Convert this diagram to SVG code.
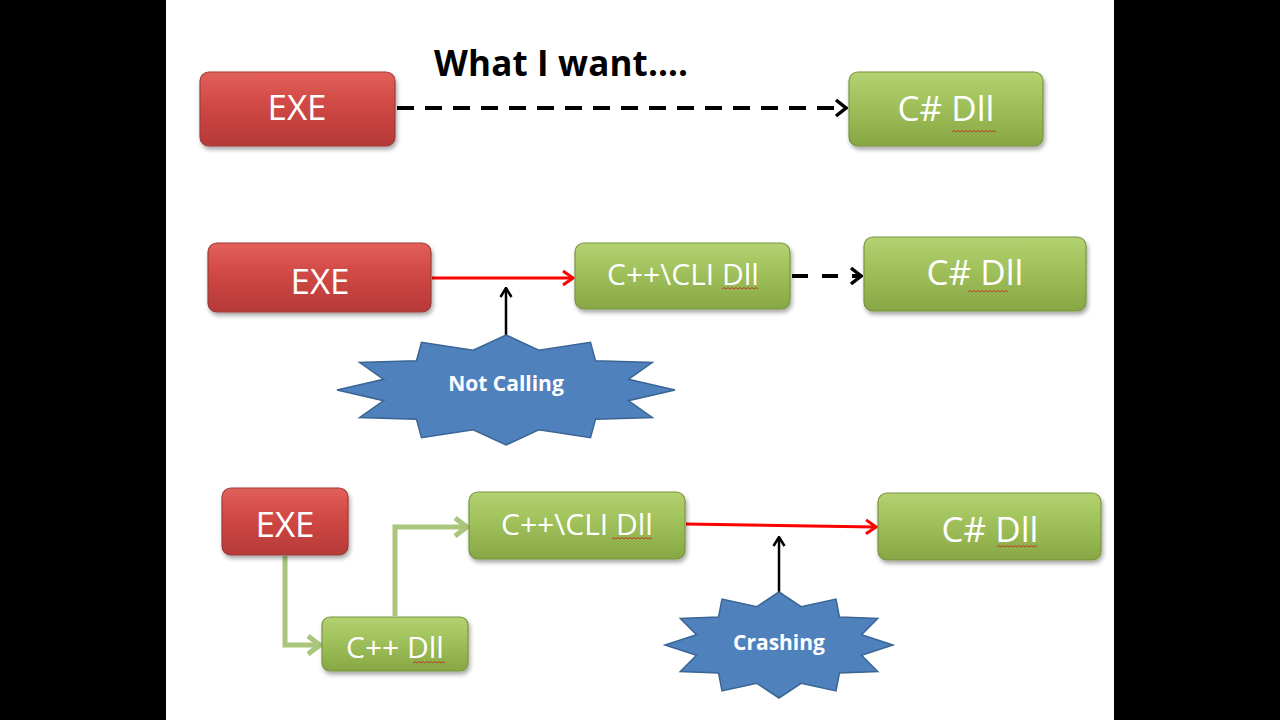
<svg xmlns="http://www.w3.org/2000/svg" xmlns:xlink="http://www.w3.org/1999/xlink" width="1280" height="720" viewBox="0 0 1280 720">
<style>
.lbl{font-family:"Open Sans","Liberation Sans",sans-serif;fill:#fff;text-anchor:middle;dominant-baseline:central}
.big{font-size:35px}
.mid{font-size:30px}
.star{font-family:"Open Sans","Liberation Sans",sans-serif;font-weight:bold;font-size:21px;fill:#fff;text-anchor:middle;dominant-baseline:central}
.red{fill:url(#gRed);stroke:#9e3a37;stroke-width:1.2;filter:url(#sh)}
.grn{fill:url(#gGrn);stroke:#7a9440;stroke-width:1.2;filter:url(#sh)}
.sq{fill:none;stroke:#c0302a;stroke-width:0.9}
.title{font-family:"Open Sans","Liberation Sans",sans-serif;font-weight:bold;font-size:35px;fill:#000}
</style>
<defs>
<linearGradient id="gRed" x1="0" y1="0" x2="0" y2="1">
<stop offset="0" stop-color="#e2605b"/>
<stop offset="0.45" stop-color="#d04844"/>
<stop offset="1" stop-color="#b53a37"/>
</linearGradient>
<linearGradient id="gGrn" x1="0" y1="0" x2="0" y2="1">
<stop offset="0" stop-color="#b4d271"/>
<stop offset="0.45" stop-color="#9fc05a"/>
<stop offset="1" stop-color="#86a743"/>
</linearGradient>
<filter id="sh" x="-10%" y="-20%" width="125%" height="150%">
<feDropShadow dx="1.5" dy="3" stdDeviation="2" flood-color="#000" flood-opacity="0.35"/>
</filter>
<polygon id="star12" vector-effect="non-scaling-stroke" points="0,-1 .194,-.724 .5,-.866 .53,-.53 .866,-.5 .724,-.194 1,0 .724,.194 .866,.5 .53,.53 .5,.866 .194,.724 0,1 -.194,.724 -.5,.866 -.53,.53 -.866,.5 -.724,.194 -1,0 -.724,-.194 -.866,-.5 -.53,-.53 -.5,-.866 -.194,-.724"/>
<marker id="aBlk" viewBox="0 0 14 20" refX="12" refY="10" markerWidth="14" markerHeight="20" markerUnits="userSpaceOnUse" orient="auto">
<path d="M2,2 L12,10 L2,18" fill="none" stroke="#000" stroke-width="3.5"/>
</marker>
<marker id="aBlkS" viewBox="0 0 12 14" refX="10.5" refY="7" markerWidth="12" markerHeight="14" markerUnits="userSpaceOnUse" orient="auto">
<path d="M1.5,1.5 L10.5,7 L1.5,12.5" fill="none" stroke="#000" stroke-width="2.5"/>
</marker>
<marker id="aRed" viewBox="0 0 14 18" refX="12" refY="9" markerWidth="14" markerHeight="18" markerUnits="userSpaceOnUse" orient="auto">
<path d="M2,2 L12,9 L2,16" fill="none" stroke="#f00" stroke-width="3"/>
</marker>
<marker id="aGrn" viewBox="0 0 18 24" refX="15" refY="12" markerWidth="18" markerHeight="24" markerUnits="userSpaceOnUse" orient="auto">
<path d="M3,3 L15,12 L3,21" fill="none" stroke="#a9c67c" stroke-width="5"/>
</marker>
</defs>
<rect width="1280" height="720" fill="#fff"/>
<rect x="0" y="0" width="166" height="720" fill="#000"/>
<rect x="1114" y="0" width="166" height="720" fill="#000"/>

<text class="title" x="434" y="76" textLength="254" lengthAdjust="spacing">What I want….</text>

<g id="connectors">
<line x1="397" y1="108" x2="846" y2="108" stroke="#000" stroke-width="4" stroke-dasharray="17 11" marker-end="url(#aBlk)"/>
<line x1="432" y1="278" x2="573" y2="278" stroke="#f00" stroke-width="3" marker-end="url(#aRed)"/>
<line x1="792" y1="276" x2="861" y2="276" stroke="#000" stroke-width="4" stroke-dasharray="16 14" marker-end="url(#aBlk)"/>
<line x1="506" y1="338" x2="506" y2="288" stroke="#000" stroke-width="2.5" marker-end="url(#aBlkS)"/>
<path d="M285,556 V645 H320" fill="none" stroke="#a9c67c" stroke-width="5" marker-end="url(#aGrn)"/>
<path d="M395,616 V527 H467" fill="none" stroke="#a9c67c" stroke-width="5" marker-end="url(#aGrn)"/>
<line x1="686" y1="524" x2="876" y2="527" stroke="#f00" stroke-width="3" marker-end="url(#aRed)"/>
<line x1="779" y1="594" x2="779" y2="537" stroke="#000" stroke-width="2.5" marker-end="url(#aBlkS)"/>
</g>

<g id="exe1"><rect class="red" x="200" y="72" width="195" height="74" rx="9"/><text class="lbl big" x="297" y="106">EXE</text></g>
<g id="csdll1"><rect class="grn" x="849" y="72" width="194" height="74" rx="9"/><text class="lbl big" x="946" y="107">C# Dll</text><path class="sq" d="M952,132 l2,-1.5 2,1.5 2,-1.5 2,1.5 2,-1.5 2,1.5 2,-1.5 2,1.5 2,-1.5 2,1.5 2,-1.5 2,1.5 2,-1.5 2,1.5 2,-1.5 2,1.5 2,-1.5 2,1.5 2,-1.5 2,1.5 2,-1.5 2,1.5"/></g>

<g id="exe2"><rect class="red" x="208" y="243" width="223" height="69" rx="9"/><text class="lbl big" x="320" y="280">EXE</text></g>
<g id="cli2"><rect class="grn" x="575" y="243" width="215" height="66" rx="9"/><text class="lbl mid" x="683" y="273">C++\CLI Dll</text><path class="sq" d="M722,289 l2,-1.5 2,1.5 2,-1.5 2,1.5 2,-1.5 2,1.5 2,-1.5 2,1.5 2,-1.5 2,1.5 2,-1.5 2,1.5 2,-1.5 2,1.5 2,-1.5 2,1.5 2,-1.5 2,1.5"/></g>
<g id="csdll2"><rect class="grn" x="864" y="237" width="222" height="74" rx="9"/><text class="lbl big" x="975" y="271">C# Dll</text><path class="sq" d="M968,292 l2,-1.5 2,1.5 2,-1.5 2,1.5 2,-1.5 2,1.5 2,-1.5 2,1.5 2,-1.5 2,1.5 2,-1.5 2,1.5 2,-1.5 2,1.5 2,-1.5 2,1.5 2,-1.5 2,1.5 2,-1.5 2,1.5"/></g>
<g id="notcalling"><use xlink:href="#star12" href="#star12" transform="translate(506,390) scale(169,55)" fill="#4f81bd" stroke="#3a6594" stroke-width="1.5"/><text class="star" x="506" y="383">Not Calling</text></g>

<g id="exe3"><rect class="red" x="222" y="488" width="126" height="67" rx="9"/><text class="lbl big" x="285" y="523">EXE</text></g>
<g id="cppdll"><rect class="grn" x="322" y="617" width="146" height="54" rx="8"/><text class="lbl mid" x="395" y="646">C++ Dll</text><path class="sq" d="M413,663 l2,-1.5 2,1.5 2,-1.5 2,1.5 2,-1.5 2,1.5 2,-1.5 2,1.5 2,-1.5 2,1.5 2,-1.5 2,1.5 2,-1.5 2,1.5 2,-1.5 2,1.5"/></g>
<g id="cli3"><rect class="grn" x="469" y="492" width="216" height="67" rx="9"/><text class="lbl mid" x="577" y="523">C++\CLI Dll</text><path class="sq" d="M612,539 l2,-1.5 2,1.5 2,-1.5 2,1.5 2,-1.5 2,1.5 2,-1.5 2,1.5 2,-1.5 2,1.5 2,-1.5 2,1.5 2,-1.5 2,1.5 2,-1.5 2,1.5 2,-1.5 2,1.5 2,-1.5 2,1.5"/></g>
<g id="csdll3"><rect class="grn" x="878" y="493" width="223" height="67" rx="9"/><text class="lbl big" x="990" y="528">C# Dll</text><path class="sq" d="M997,547 l2,-1.5 2,1.5 2,-1.5 2,1.5 2,-1.5 2,1.5 2,-1.5 2,1.5 2,-1.5 2,1.5 2,-1.5 2,1.5 2,-1.5 2,1.5 2,-1.5 2,1.5 2,-1.5 2,1.5 2,-1.5 2,1.5"/></g>
<g id="crashing"><use xlink:href="#star12" href="#star12" transform="translate(779,645) scale(114,53)" fill="#4f81bd" stroke="#3a6594" stroke-width="1.5"/><text class="star" x="779" y="642">Crashing</text></g>
</svg>
